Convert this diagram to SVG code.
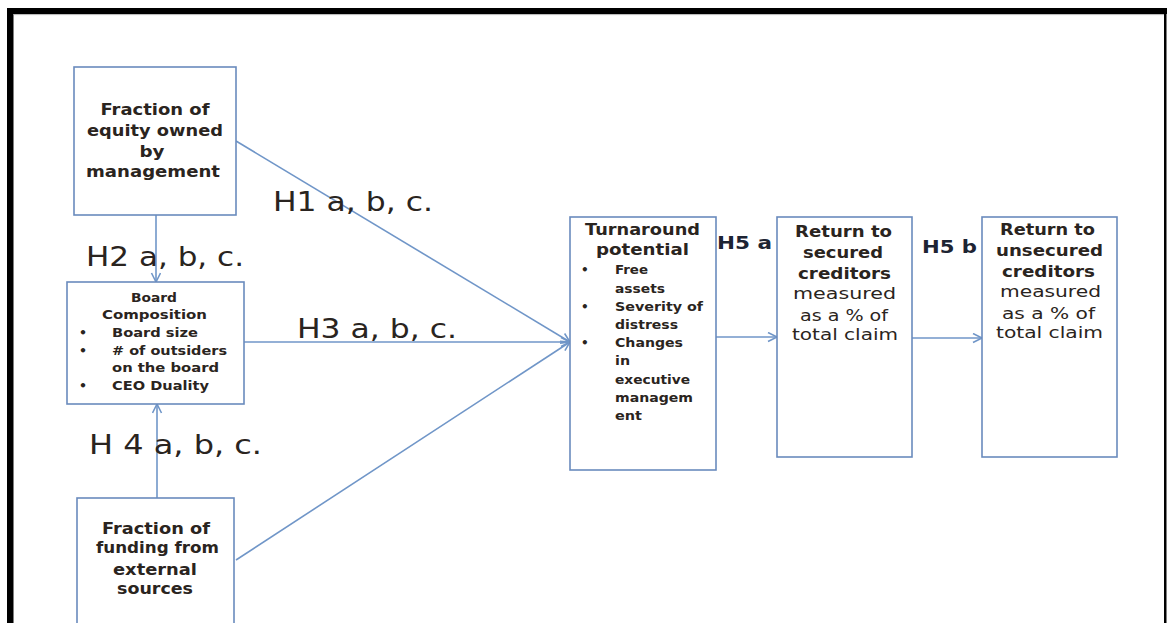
<svg xmlns="http://www.w3.org/2000/svg" width="1167" height="623" viewBox="0 0 1167 623">
  <style>
    .box { fill: #ffffff; stroke: #6a8bbd; stroke-width: 1.6; }
    .edge { stroke: #7096c8; stroke-width: 1.6; fill: none; }
    .t { font-family: "DejaVu Sans", Verdana, sans-serif; fill: #2a2420; }
    .b { font-weight: bold; }
    .mid { text-anchor: middle; }
    .lbl { font-family: "DejaVu Sans", Verdana, sans-serif; fill: #2a2420; font-size: 26px; }
    .lb { font-family: "DejaVu Sans", Verdana, sans-serif; fill: #1d2433; font-size: 18px; font-weight: bold; }
  </style>
  <defs>
    <marker id="arrow" markerWidth="12" markerHeight="12" refX="10" refY="5" orient="auto" markerUnits="userSpaceOnUse">
      <path d="M1,0.5 L10,5 L1,9.5" fill="none" stroke="#7096c8" stroke-width="1.6"/>
    </marker>
  </defs>

  <rect x="0" y="0" width="1167" height="623" fill="#ffffff"/>

  <!-- outer frame -->
  <g id="frame">
    <rect x="7" y="8" width="1160" height="6" fill="#000000"/>
    <rect x="7" y="8" width="6.5" height="615" fill="#000000"/>
    <rect x="1164" y="8" width="2.5" height="615" fill="#000000"/>
    <line x1="13.5" y1="14.6" x2="1164" y2="14.6" stroke="#b4b4b4" stroke-width="1"/>
  </g>

  <!-- connectors -->
  <g id="connectors">
    <line class="edge" x1="236" y1="141" x2="570" y2="342" marker-end="url(#arrow)"/>
    <line class="edge" x1="244" y1="342" x2="570" y2="342" marker-end="url(#arrow)"/>
    <line class="edge" x1="236" y1="560" x2="570" y2="342" marker-end="url(#arrow)"/>
    <line class="edge" x1="156" y1="215" x2="156" y2="282" marker-end="url(#arrow)"/>
    <line class="edge" x1="157" y1="498" x2="157" y2="404" marker-end="url(#arrow)"/>
    <line class="edge" x1="716" y1="337" x2="777" y2="337" marker-end="url(#arrow)"/>
    <line class="edge" x1="912" y1="338" x2="982" y2="338" marker-end="url(#arrow)"/>
  </g>

  <!-- hypothesis labels -->
  <g id="labels">
    <text class="lbl" x="273" y="211" textLength="160" lengthAdjust="spacingAndGlyphs">H1 a, b, c.</text>
    <text class="lbl" x="86" y="266" font-size="34" textLength="158" lengthAdjust="spacingAndGlyphs">H2 a, b, c.</text>
    <text class="lbl" x="297" y="338" textLength="160" lengthAdjust="spacingAndGlyphs">H3 a, b, c.</text>
    <text class="lbl" x="89" y="454" font-size="28" textLength="173" lengthAdjust="spacingAndGlyphs">H 4 a, b, c.</text>
    <text class="lb" x="717" y="249" textLength="55" lengthAdjust="spacingAndGlyphs">H5 a</text>
    <text class="lb" x="922" y="253" textLength="55" lengthAdjust="spacingAndGlyphs">H5 b</text>
  </g>

  <!-- equity ownership -->
  <g id="node-equity">
    <rect class="box" x="74" y="67" width="162" height="148"/>
    <g class="t b mid" font-size="15.5">
      <text x="155" y="115" textLength="109" lengthAdjust="spacingAndGlyphs">Fraction of</text>
      <text x="155" y="136" textLength="136" lengthAdjust="spacingAndGlyphs">equity owned</text>
      <text x="152" y="157" textLength="25" lengthAdjust="spacingAndGlyphs">by</text>
      <text x="153" y="177" textLength="134" lengthAdjust="spacingAndGlyphs">management</text>
    </g>
  </g>

  <!-- board composition -->
  <g id="node-board">
    <rect class="box" x="67" y="282" width="177" height="122"/>
    <g class="t b" font-size="12.5">
      <text class="mid" x="154" y="302" textLength="46" lengthAdjust="spacingAndGlyphs">Board</text>
      <text class="mid" x="154.5" y="319" textLength="105" lengthAdjust="spacingAndGlyphs">Composition</text>
      <text x="79" y="337">•</text>
      <text x="79" y="355">•</text>
      <text x="79" y="390">•</text>
      <text x="112" y="337" textLength="86" lengthAdjust="spacingAndGlyphs">Board size</text>
      <text x="112" y="355" textLength="115" lengthAdjust="spacingAndGlyphs"># of outsiders</text>
      <text x="112" y="372" textLength="107" lengthAdjust="spacingAndGlyphs">on the board</text>
      <text x="112" y="390" textLength="97" lengthAdjust="spacingAndGlyphs">CEO Duality</text>
    </g>
  </g>

  <!-- external funding -->
  <g id="node-funding">
    <rect class="box" x="77" y="498" width="157" height="140"/>
    <g class="t b mid" font-size="15.5">
      <text x="156" y="534" textLength="108" lengthAdjust="spacingAndGlyphs">Fraction of</text>
      <text x="157.5" y="553" textLength="123" lengthAdjust="spacingAndGlyphs">funding from</text>
      <text x="155" y="575" textLength="84" lengthAdjust="spacingAndGlyphs">external</text>
      <text x="155" y="594" textLength="76" lengthAdjust="spacingAndGlyphs">sources</text>
    </g>
  </g>

  <!-- turnaround potential -->
  <g id="node-turnaround">
    <rect class="box" x="570" y="217" width="146" height="253"/>
    <g class="t b">
      <text class="mid" x="642.5" y="235" font-size="16" textLength="115" lengthAdjust="spacingAndGlyphs">Turnaround</text>
      <text class="mid" x="642.5" y="255" font-size="16" textLength="93" lengthAdjust="spacingAndGlyphs">potential</text>
      <g font-size="12">
        <text x="581" y="274">•</text>
        <text x="581" y="311">•</text>
        <text x="581" y="347">•</text>
        <text x="615" y="274" textLength="33" lengthAdjust="spacingAndGlyphs">Free</text>
        <text x="615" y="293" textLength="50" lengthAdjust="spacingAndGlyphs">assets</text>
        <text x="615" y="311" textLength="88" lengthAdjust="spacingAndGlyphs">Severity  of</text>
        <text x="615" y="329" textLength="63" lengthAdjust="spacingAndGlyphs">distress</text>
        <text x="615" y="347" textLength="68" lengthAdjust="spacingAndGlyphs">Changes</text>
        <text x="615" y="365" textLength="15" lengthAdjust="spacingAndGlyphs">in</text>
        <text x="615" y="384" textLength="75" lengthAdjust="spacingAndGlyphs">executive</text>
        <text x="615" y="402" textLength="78" lengthAdjust="spacingAndGlyphs">managem</text>
        <text x="615" y="420" textLength="27" lengthAdjust="spacingAndGlyphs">ent</text>
      </g>
    </g>
  </g>

  <!-- secured creditors -->
  <g id="node-secured">
    <rect class="box" x="777" y="217" width="135" height="240"/>
    <g class="t mid" font-size="16">
      <text class="b" x="843.5" y="237" textLength="97" lengthAdjust="spacingAndGlyphs">Return to</text>
      <text class="b" x="843" y="258" textLength="80" lengthAdjust="spacingAndGlyphs">secured</text>
      <text class="b" x="844.5" y="279" textLength="93" lengthAdjust="spacingAndGlyphs">creditors</text>
      <text x="844.5" y="299" textLength="103" lengthAdjust="spacingAndGlyphs">measured</text>
      <text x="844" y="321" textLength="88" lengthAdjust="spacingAndGlyphs">as a % of</text>
      <text x="845" y="340" textLength="106" lengthAdjust="spacingAndGlyphs">total claim</text>
    </g>
  </g>

  <!-- unsecured creditors -->
  <g id="node-unsecured">
    <rect class="box" x="982" y="217" width="135" height="240"/>
    <g class="t mid" font-size="16">
      <text class="b" x="1047.5" y="235" textLength="95" lengthAdjust="spacingAndGlyphs">Return to</text>
      <text class="b" x="1049.5" y="256" textLength="107" lengthAdjust="spacingAndGlyphs">unsecured</text>
      <text class="b" x="1048.5" y="277" textLength="93" lengthAdjust="spacingAndGlyphs">creditors</text>
      <text x="1050.5" y="297" textLength="101" lengthAdjust="spacingAndGlyphs">measured</text>
      <text x="1048.5" y="319" textLength="93" lengthAdjust="spacingAndGlyphs">as a  % of</text>
      <text x="1049.5" y="338" textLength="107" lengthAdjust="spacingAndGlyphs">total claim</text>
    </g>
  </g>
</svg>
